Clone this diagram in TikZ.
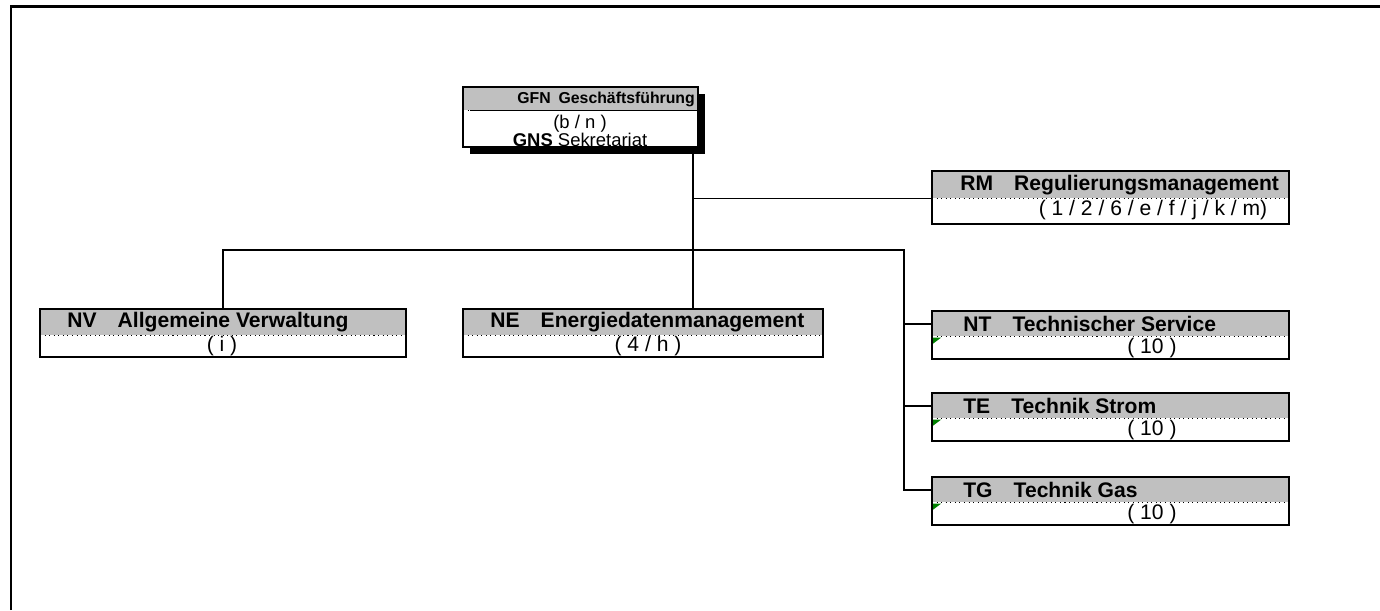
\documentclass[tikz,border=0pt]{standalone}
\usepackage{fontspec}
\setmainfont{Liberation Sans}
\usetikzlibrary{backgrounds}
\definecolor{headgray}{HTML}{C0C0C0}
\definecolor{markgreen}{HTML}{008000}

\begin{document}
\begin{tikzpicture}[x=0.02cm,y=-0.02cm,
  boxline/.style={draw=black,line width=1.1pt},
  sepline/.style={draw=black,dotted,line width=0.6pt},
  link/.style={draw=black,line width=0.8pt},
  head/.style={fill=headgray,inner sep=0pt,anchor=north west},
  body/.style={fill=white,inner sep=0pt,anchor=north west},
  headtext/.style={font=\fontsize{12}{14}\selectfont\bfseries,anchor=west,inner sep=0pt},
  bodytext/.style={font=\fontsize{12}{14}\selectfont,inner sep=0pt},
  toptext/.style={font=\fontsize{10.5}{12}\selectfont,inner sep=0pt}]
  \useasboundingbox (0,0) rectangle (1380,610);
  \draw[line width=1.7pt] (11,610) -- (11,6) -- (1380,6);

  % management
  \node[head,minimum width=4.68cm,minimum height=0.46cm] (gfn) at (463,87) {};
  \node[body,minimum width=4.68cm,minimum height=0.72cm] (gfn-b) at (gfn.south west) {};
  \draw[sepline] (gfn.south west) -- (gfn.south east);
  \draw[boxline] (gfn.north west) rectangle (gfn-b.south east);
  \begin{scope}[on background layer]
    \fill ([shift={(7,7)}]gfn.north west) rectangle ([shift={(7,7)}]gfn-b.south east);
  \end{scope}
  \node[toptext,font=\fontsize{9}{11}\selectfont\bfseries,anchor=west] (gfn-t) at (517,99)
    {GFN\enspace Geschäftsführung};
  \node[toptext] (gfn-c) at (580,124) {(b / n )};
  \node[toptext] (gns) at (580,140) {\textbf{GNS} Sekretariat};

  % staff unit
  \node[head,minimum width=7.12cm,minimum height=0.54cm] (rm) at (932,171) {};
  \node[body,minimum width=7.12cm,minimum height=0.5cm] (rm-b) at (rm.south west) {};
  \draw[sepline] (rm.south west) -- (rm.south east);
  \draw[boxline] (rm.north west) rectangle (rm-b.south east);
  \node[headtext] (rm-t) at (960,185) {RM\quad Regulierungsmanagement};
  \node[bodytext] (rm-c) at (1153,210) {( 1 / 2 / 6 / e / f / j / k / m)};

  % departments
  \node[head,minimum width=7.3cm,minimum height=0.52cm] (nv) at (40,309) {};
  \node[body,minimum width=7.3cm,minimum height=0.42cm] (nv-b) at (nv.south west) {};
  \draw[sepline] (nv.south west) -- (nv.south east);
  \draw[boxline] (nv.north west) rectangle (nv-b.south east);
  \node[headtext] (nv-t) at (67,322) {NV\quad Allgemeine Verwaltung};
  \node[bodytext] (nv-c) at (222,346) {( i )};

  \node[head,minimum width=7.18cm,minimum height=0.52cm] (ne) at (463,309) {};
  \node[body,minimum width=7.18cm,minimum height=0.42cm] (ne-b) at (ne.south west) {};
  \draw[sepline] (ne.south west) -- (ne.south east);
  \draw[boxline] (ne.north west) rectangle (ne-b.south east);
  \node[headtext] (ne-t) at (490,322) {NE\quad Energiedatenmanagement};
  \node[bodytext] (ne-c) at (648,346) {( 4 / h )};

  \foreach \id/\y/\code/\name in {nt/311/NT/Technischer Service,
                                  te/393/TE/Technik Strom,
                                  tg/477/TG/Technik Gas}{
    \node[head,minimum width=7.12cm,minimum height=0.5cm] (\id) at (932,\y) {};
    \node[body,minimum width=7.12cm,minimum height=0.44cm] (\id-b) at (\id.south west) {};
    \draw[sepline] (\id.south west) -- (\id.south east);
    \draw[boxline] (\id.north west) rectangle (\id-b.south east);
    \fill[markgreen] ([shift={(1,1)}]\id-b.north west) -- ++(8,0) -- ++(-8,6) -- cycle;
    \node[headtext] (\id-t) at ([shift={(31,0)}]\id.west) {\code\quad \name};
    \node[bodytext] (\id-c) at ([xshift=4.4cm]\id-b.west) {( 10 )};
  }

  % connectors
  \coordinate (trunk) at (693,153);
  \coordinate (rbus) at (904,250);
  \draw[link] (trunk) -- (trunk |- ne.north);
  \draw[link] (trunk |- rm.south west) -- (rm.south west);
  \draw[link] (nv.north) |- (rbus) -- (rbus |- tg.west) -- (tg.west);
  \draw[link] (rbus |- nt.west) -- (nt.west);
  \draw[link] (rbus |- te.west) -- (te.west);
\end{tikzpicture}
\end{document}
